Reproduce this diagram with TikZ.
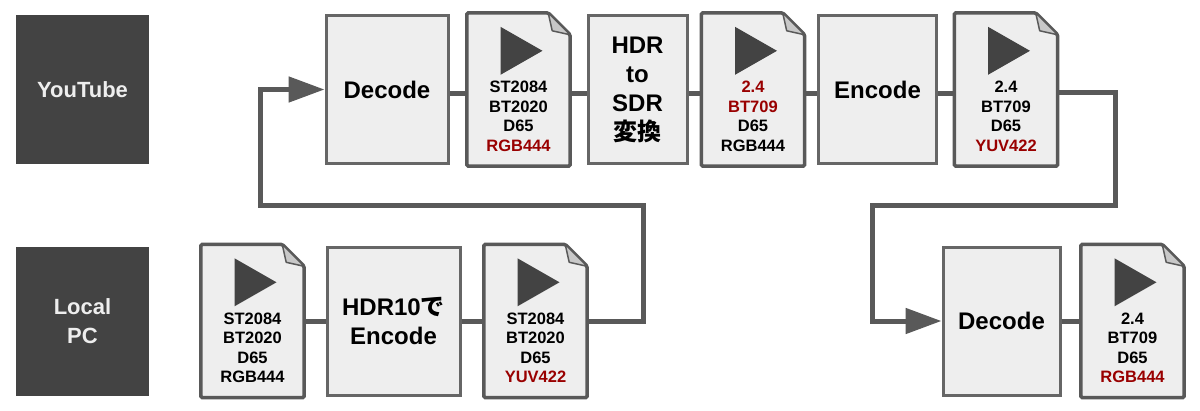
\documentclass[tikz,border=0pt]{standalone}
\usepackage{fontspec}
\setmainfont{Liberation Sans}
\newfontfamily\jp{Noto Sans CJK JP}
\usetikzlibrary{arrows.meta}

\definecolor{labelgray}{HTML}{434343}
\definecolor{boxfill}{HTML}{EEEEEE}
\definecolor{boxline}{HTML}{666666}
\definecolor{flowgray}{HTML}{595959}
\definecolor{foldgray}{HTML}{C8C8C8}
\definecolor{hilite}{HTML}{990000}

\tikzset{
  x=1pt, y=-1pt,
  site/.style={fill=labelgray, text=boxfill, minimum width=133pt, minimum height=149pt,
    font=\fontsize{22}{29}\selectfont\bfseries, align=center, inner sep=0pt},
  proc/.style={draw=boxline, fill=boxfill, line width=3pt, minimum height=148pt,
    font=\fontsize{24}{29}\selectfont\bfseries, align=center, inner sep=0pt},
  docbox/.style={minimum width=103pt, minimum height=153pt, inner sep=0pt},
  docline/.style={draw=flowgray, fill=boxfill, line width=3.5pt, rounded corners=1.5pt},
  doctext/.style={font=\fontsize{16.5}{19.5}\selectfont\bfseries, align=center, inner sep=0pt},
  flow/.style={draw=flowgray, line width=5pt},
  into/.style={flow, -{Triangle[length=36pt,width=25pt]}},
}

\begin{document}
\begin{tikzpicture}
\useasboundingbox (0,0) rectangle (1200,410);

% row labels
\node[site] (yt) at (82.5,89.5) {YouTube};
\node[site] (pc) at (82.5,321) {Local\\PC};

% file shapes
\node[docbox] (f1) at (518.5,89.5) {};
\node[docbox] (f2) at (753,89.5) {};
\node[docbox] (f3) at (1006,89.5) {};
\node[docbox] (f4) at (252.5,321) {};
\node[docbox] (f5) at (535.5,321) {};
\node[docbox] (f6) at (1132.5,321) {};

\foreach \f in {f1,f2,f3,f4,f5,f6} {
  \draw[docline] (\f.north west) -- ([xshift=-22pt]\f.north east)
    -- ([yshift=-22pt]\f.north east) -- (\f.south east) -- (\f.south west) -- cycle;
  \draw[draw=flowgray, fill=foldgray, line width=1.5pt, line join=round]
    ([xshift=-22pt]\f.north east) -- ([xshift=-18pt,yshift=-18pt]\f.north east)
    -- ([yshift=-22pt]\f.north east) -- cycle;
  \fill[labelgray] ([xshift=-18pt,yshift=-14pt]\f.north)
    -- ([xshift=-18pt,yshift=-62pt]\f.north) -- ([xshift=24pt,yshift=-38pt]\f.north) -- cycle;
}

% process boxes
\node[proc, minimum width=122pt] (dec1) at (387,89.5) {Decode};
\node[proc, minimum width=99pt] (conv) at (637.5,89.5) {HDR\\to\\SDR\\{\jp\bfseries 変換}};
\node[proc, minimum width=118pt] (enc1) at (877.5,89.5) {Encode};
\node[proc, minimum width=133pt] (enc2) at (393.5,321) {HDR10{\jp\bfseries で}\\Encode};
\node[proc, minimum width=117pt] (dec2) at (1001.5,321) {Decode};

% file contents
\node[doctext] (t1) at ([yshift=-27pt]f1.center) {ST2084\\BT2020\\D65\\\textcolor{hilite}{RGB444}};
\node[doctext] (t2) at ([yshift=-27pt]f2.center) {\textcolor{hilite}{2.4}\\\textcolor{hilite}{BT709}\\D65\\RGB444};
\node[doctext] (t3) at ([yshift=-27pt]f3.center) {2.4\\BT709\\D65\\\textcolor{hilite}{YUV422}};
\node[doctext] (t4) at ([yshift=-27pt]f4.center) {ST2084\\BT2020\\D65\\RGB444};
\node[doctext] (t5) at ([yshift=-27pt]f5.center) {ST2084\\BT2020\\D65\\\textcolor{hilite}{YUV422}};
\node[doctext] (t6) at ([yshift=-27pt]f6.center) {2.4\\BT709\\D65\\\textcolor{hilite}{RGB444}};

% connectors
\draw[flow] ([yshift=-4pt]dec1.east) -- ([yshift=-4pt]f1.west);
\draw[flow] ([yshift=-4pt]f1.east) -- ([yshift=-4pt]conv.west);
\draw[flow] ([yshift=-4pt]conv.east) -- ([yshift=-4pt]f2.west);
\draw[flow] ([yshift=-4pt]f2.east) -- ([yshift=-4pt]enc1.west);
\draw[flow] ([yshift=-4pt]enc1.east) -- ([yshift=-4pt]f3.west);
\draw[flow] (f4) -- (enc2);
\draw[flow] (enc2) -- (f5);
\draw[flow] (dec2) -- (f6);
\coordinate (up1) at (643,205);
\coordinate (up2) at (260,205);
\coordinate (dn1) at (1115,205);
\coordinate (dn2) at (872,205);
\draw[into] (f5.east) -| (up1) -- (up2) |- (dec1.west);
\draw[into] ([yshift=-3pt]f3.east) -| (dn1) -- (dn2) |- (dec2.west);
\end{tikzpicture}
\end{document}
